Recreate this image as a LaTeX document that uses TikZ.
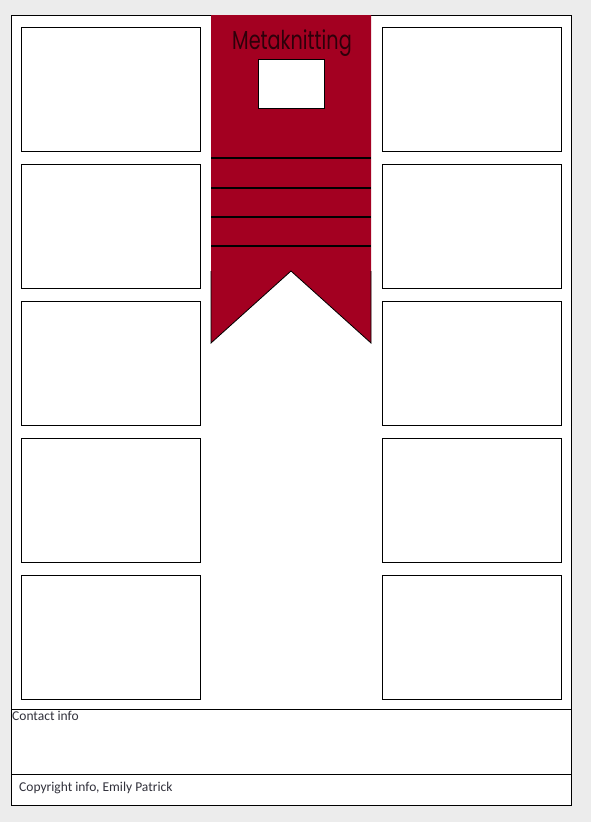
\documentclass[tikz,border=0pt]{standalone}
\usepackage{fontspec}
\setmainfont{Carlito}
\newfontfamily\titlefont{Poppins}
\usepackage{tikz}
\usetikzlibrary{positioning,calc}
\definecolor{pagegrey}{RGB}{236, 236, 236}
\definecolor{ribbonred}{RGB}{163, 0, 33}
\definecolor{titleink}{RGB}{45, 0, 10}
\definecolor{footink}{RGB}{50, 50, 60}

\tikzset{
    panel/.style={draw, line width=0.9pt, fill=white, minimum width=179pt, minimum height=124pt, inner sep=0pt, anchor=north west},
    rule/.style={line width=1.6pt, black},
    foot/.style={font=\fontsize{13.5}{15}\selectfont, text=footink, inner sep=0pt, anchor=north west}
}

\begin{document}
\begin{tikzpicture}[x=1pt,y=-1pt]
    \fill[pagegrey] (0,0) rectangle (591,822);
    \useasboundingbox (0,0) rectangle (591,822);
    % page
    \draw[fill=white,line width=0.9pt] (11,15) rectangle (571,805);
    % photo panels, left and right columns
    \foreach \i in {1,...,5} {
        \node[panel] (left\i) at (21,{27+137*(\i-1)}) {};
        \node[panel] (right\i) at (382,{27+137*(\i-1)}) {};
    }
    % ribbon
    \fill[ribbonred] (211,15) -- (371,15) -- (371,343) -- (291,271) -- (211,343) -- cycle;
    \draw[line width=0.8pt] (211,271) -- (211,343) -- (291,271) -- (371,343) -- (371,271);
    \foreach \y in {158,188,217,246}
        \draw[rule] (211,\y) -- (371,\y);
    \node[text=titleink, font=\titlefont\fontsize{26}{28}\selectfont, xscale=0.74, inner sep=0pt] (title) at (292,43) {Metaknitting};
    \node[draw, fill=white, line width=0.9pt, minimum width=66pt, minimum height=49pt, inner sep=0pt, anchor=north west] (logo) at (258,59) {};
    % footer
    \draw[line width=0.9pt] (11,709) -- (571,709);
    \draw[line width=0.9pt] (11,774) -- (571,774);
    \node[foot] (contact) at (12,711) {Contact info};
    \node[foot] (copyright) at (19,782) {Copyright info, Emily Patrick};
\end{tikzpicture}
\end{document}
